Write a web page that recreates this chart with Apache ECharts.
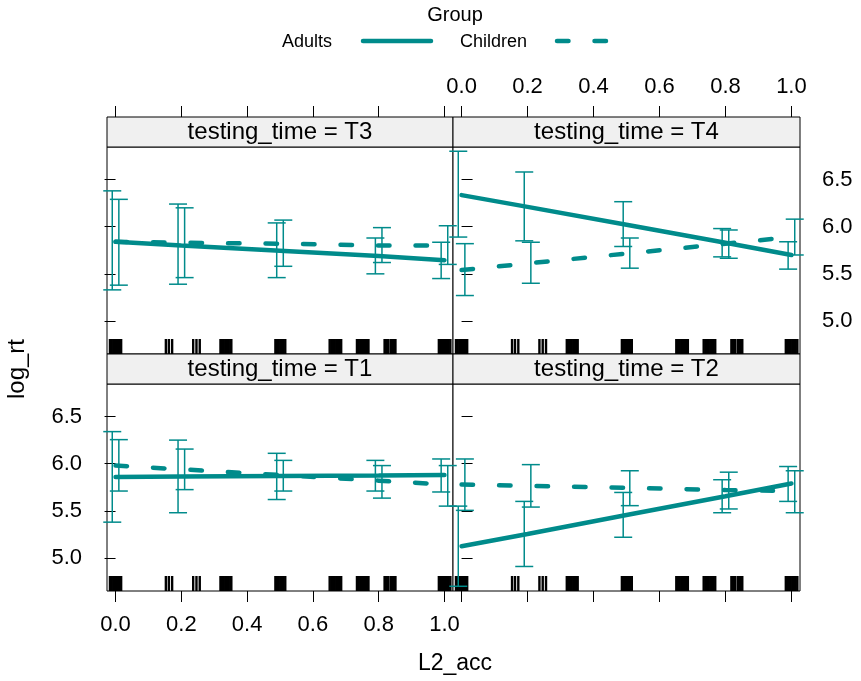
<!DOCTYPE html>
<html>
<head>
<meta charset="UTF-8">
<title>log_rt by L2_acc</title>
<script src="https://cdn.jsdelivr.net/npm/echarts@6/dist/echarts.min.js"></script>
<style>
    html, body { margin: 0; padding: 0; background: #fff; }
    #main { width: 861px; height: 681px; }
</style>
</head>
<body>
<div id="main"></div>
<script>
// panel order: top-left, top-right, bottom-left, bottom-right
var panelNames = ['T3', 'T4', 'T1', 'T2'];
var xPoints = [0, 0.2, 0.5, 0.8, 1.0];
var xTicks = [0, 0.2, 0.4, 0.6, 0.8, 1.0];
var yTicks = [5.0, 5.5, 6.0, 6.5];

var adultsFit = [
    [5.84, 5.80, 5.745, 5.69, 5.645],
    [6.335, 6.21, 6.02, 5.83, 5.70],
    [5.86, 5.865, 5.87, 5.875, 5.88],
    [5.125, 5.255, 5.455, 5.655, 5.79]
];
var adultsLow = [
    [5.33, 5.39, 5.46, 5.50, 5.45],
    [5.89, 5.85, 5.79, 5.68, 5.55],
    [5.38, 5.48, 5.62, 5.71, 5.70],
    [4.70, 4.91, 5.22, 5.48, 5.60]
];
var adultsHigh = [
    [6.38, 6.24, 6.04, 5.88, 5.835],
    [6.80, 6.58, 6.265, 5.98, 5.84],
    [6.34, 6.25, 6.11, 6.035, 6.05],
    [5.55, 5.60, 5.695, 5.83, 5.97]
];
var childrenFit = [
    [5.84, 5.83, 5.82, 5.80, 5.80],
    [5.54, 5.61, 5.715, 5.82, 5.89],
    [5.98, 5.94, 5.88, 5.82, 5.78],
    [5.78, 5.765, 5.745, 5.72, 5.71]
];
var childrenLow = [
    [5.38, 5.46, 5.58, 5.62, 5.60],
    [5.27, 5.40, 5.56, 5.665, 5.70],
    [5.71, 5.725, 5.71, 5.635, 5.55],
    [5.505, 5.54, 5.555, 5.52, 5.48]
];
var childrenHigh = [
    [6.29, 6.20, 6.07, 5.99, 6.01],
    [5.82, 5.835, 5.88, 5.965, 6.08],
    [6.255, 6.155, 6.035, 5.98, 5.98],
    [6.05, 5.99, 5.925, 5.91, 5.925]
];

// jittered L2_acc observations shown as rug
var rugValues = [
    -0.017, -0.012, -0.007, -0.002, 0.003, 0.008, 0.013, 0.017,
    0.153, 0.162, 0.172,
    0.236, 0.246, 0.256,
    0.319, 0.324, 0.329, 0.334, 0.339, 0.344, 0.349, 0.352,
    0.486, 0.491, 0.496, 0.501, 0.506, 0.511, 0.516,
    0.651, 0.656, 0.661, 0.666, 0.671, 0.676, 0.681, 0.686,
    0.734, 0.739, 0.744, 0.749, 0.754, 0.759, 0.764, 0.769,
    0.818, 0.822, 0.826, 0.830, 0.838, 0.843, 0.847, 0.851,
    0.983, 0.988, 0.993, 0.998, 1.003, 1.008, 1.013, 1.018
];

var teal = '#008b8b';
var font = 'Liberation Sans, Arial, Helvetica, sans-serif';
var dashPattern = [11.5, 26];

// grid boxes (lattice panels)
var grids = [
    { left: 107, top: 147, width: 346, height: 207 },
    { left: 453, top: 147, width: 347, height: 207 },
    { left: 107, top: 384, width: 346, height: 207 },
    { left: 453, top: 384, width: 347, height: 207 }
];

var chart = echarts.init(document.getElementById('main'));

function tickFmt(v) {
    return Number(v).toFixed(1);
}

var xAxes = [];
var yAxes = [];
var series = [];
var graphics = [];

grids.forEach(function(g, i) {
    g.show = true;
    g.borderColor = '#000';
    g.borderWidth = 1;
    g.backgroundColor = '#fff';

    var isTop = i < 2;
    var isLeft = i % 2 == 0;

    xAxes.push({
        type: 'value',
        gridIndex: i,
        min: -0.026,
        max: 1.026,
        position: isTop ? 'top' : 'bottom',
        offset: isTop ? 30 : 0,
        axisLine: { show: false },
        splitLine: { show: false },
        axisTick: {
            show: true, inside: false, length: 11,
            customValues: xTicks,
            lineStyle: { color: '#000', width: 1 }
        },
        axisLabel: {
            show: (i == 1 || i == 2),
            customValues: xTicks,
            formatter: tickFmt,
            color: '#000',
            fontSize: 22,
            fontFamily: font,
            margin: isTop ? 19 : 23
        }
    });

    yAxes.push({
        type: 'value',
        gridIndex: i,
        min: 4.65,
        max: 6.845,
        position: isLeft ? 'left' : 'right',
        axisLine: { show: false },
        splitLine: { show: false },
        axisTick: {
            show: true, inside: false, length: 11,
            customValues: yTicks,
            lineStyle: { color: '#000', width: 1 }
        },
        axisLabel: {
            show: (i == 1 || i == 2),
            customValues: yTicks,
            formatter: tickFmt,
            color: '#000',
            fontSize: 22,
            fontFamily: font,
            margin: isLeft ? 25 : 22
        }
    });

    // strip above each panel
    graphics.push({
        type: 'rect',
        shape: { x: g.left, y: g.top - 30, width: g.width, height: 30 },
        style: { fill: '#f0f0f0', stroke: '#000', lineWidth: 1 },
        z: 10
    });
    graphics.push({
        type: 'text',
        x: g.left + g.width / 2,
        y: g.top - 15,
        style: {
            text: 'testing_time = ' + panelNames[i],
            fill: '#000',
            font: '24px ' + font,
            textAlign: 'center',
            textVerticalAlign: 'middle'
        },
        z: 11
    });

    var groups = [
        { name: 'Adults', fit: adultsFit[i], low: adultsLow[i], high: adultsHigh[i], dodge: -0.01, dash: 'solid' },
        { name: 'Children', fit: childrenFit[i], low: childrenLow[i], high: childrenHigh[i], dodge: 0.01, dash: dashPattern }
    ];

    groups.forEach(function(grp) {
        series.push({
            name: grp.name,
            type: 'line',
            xAxisIndex: i,
            yAxisIndex: i,
            symbol: 'none',
            silent: true,
            lineStyle: { color: teal, width: 4.5, type: grp.dash, cap: 'round' },
            data: xPoints.map(function(x, k) { return [x, grp.fit[k]]; }),
            z: 3
        });

        series.push({
            name: grp.name + ' CI',
            type: 'custom',
            xAxisIndex: i,
            yAxisIndex: i,
            silent: true,
            data: xPoints.map(function(x, k) { return [x + grp.dodge, grp.low[k], grp.high[k]]; }),
            encode: { x: 0, y: [1, 2] },
            renderItem: function(params, api) {
                var lo = api.coord([api.value(0), api.value(1)]);
                var hi = api.coord([api.value(0), api.value(2)]);
                var w = 9;
                var st = { stroke: teal, lineWidth: 1.5 };
                return {
                    type: 'group',
                    children: [
                        { type: 'line', shape: { x1: lo[0], y1: lo[1], x2: hi[0], y2: hi[1] }, style: st },
                        { type: 'line', shape: { x1: lo[0] - w, y1: lo[1], x2: lo[0] + w, y2: lo[1] }, style: st },
                        { type: 'line', shape: { x1: hi[0] - w, y1: hi[1], x2: hi[0] + w, y2: hi[1] }, style: st }
                    ]
                };
            },
            z: 4
        });
    });

    // rug along the bottom of each panel
    series.push({
        type: 'custom',
        xAxisIndex: i,
        yAxisIndex: i,
        silent: true,
        data: rugValues.map(function(v) { return [v, 4.65]; }),
        encode: { x: 0, y: 1 },
        renderItem: function(params, api) {
            var x = api.coord([api.value(0), 5])[0];
            var bottom = params.coordSys.y + params.coordSys.height;
            return {
                type: 'line',
                shape: { x1: x, y1: bottom, x2: x, y2: bottom - 15 },
                style: { stroke: '#000', lineWidth: 2.4 }
            };
        },
        z: 2
    });
});

// key and axis titles
graphics.push(
    { type: 'text', x: 455, y: 15, style: { text: 'Group', fill: '#000', font: '20px ' + font, textAlign: 'center', textVerticalAlign: 'middle' } },
    { type: 'text', x: 282, y: 42, style: { text: 'Adults', fill: '#000', font: '18px ' + font, textAlign: 'left', textVerticalAlign: 'middle' } },
    { type: 'line', shape: { x1: 363, y1: 41, x2: 431, y2: 41 }, style: { stroke: teal, lineWidth: 4.5, lineCap: 'round' } },
    { type: 'text', x: 460, y: 42, style: { text: 'Children', fill: '#000', font: '18px ' + font, textAlign: 'left', textVerticalAlign: 'middle' } },
    { type: 'line', shape: { x1: 557, y1: 41, x2: 608, y2: 41 }, style: { stroke: teal, lineWidth: 4.5, lineCap: 'round', lineDash: dashPattern } },
    { type: 'text', x: 455, y: 664, style: { text: 'L2_acc', fill: '#000', font: '23px ' + font, textAlign: 'center', textVerticalAlign: 'middle' } },
    { type: 'text', x: 17, y: 369, rotation: Math.PI / 2, style: { text: 'log_rt', fill: '#000', font: '24px ' + font, textAlign: 'center', textVerticalAlign: 'middle' } }
);

chart.setOption({
    animation: false,
    backgroundColor: '#fff',
    grid: grids,
    xAxis: xAxes,
    yAxis: yAxes,
    series: series,
    graphic: graphics
});
</script>
</body>
</html>
